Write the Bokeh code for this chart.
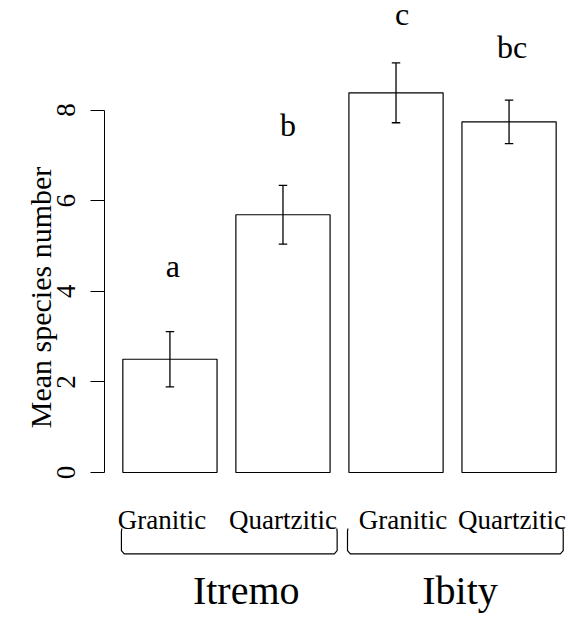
from bokeh.plotting import figure
from bokeh.models import (ColumnDataSource, Range1d, LinearAxis, FixedTicker,
                          CustomJSTickFormatter)
from bokeh.core.properties import value
from bokeh.embed import file_html
from bokeh.resources import INLINE

# ---- data ----
sites = ["Itremo", "Itremo", "Ibity", "Ibity"]
substrates = ["Granitic", "Quartzitic", "Granitic", "Quartzitic"]
mean_species = [2.50, 5.69, 8.38, 7.74]
se = [0.61, 0.65, 0.66, 0.48]
letters = ["a", "b", "c", "bc"]
letter_y = [4.33, 7.44, 9.89, 9.17]
groups = ["Itremo", "Ibity"]
y_ticks = [0, 2, 4, 6, 8]
y_label = "Mean species number"

FONT = value("Liberation Serif")

# R barplot geometry: width 1, space 0.2
bar_width = 1.0
space = 0.2
centers = [space + bar_width / 2 + i * (bar_width + space) for i in range(len(mean_species))]

p = figure(width=568, height=617, output_backend="svg", toolbar_location=None,
           x_range=Range1d(0.0053, 4.931), y_range=Range1d(-2.693, 10.419),
           x_axis_type=None, y_axis_type=None,
           min_border_left=104, min_border_right=0, min_border_top=0, min_border_bottom=23)
p.outline_line_color = None
p.background_fill_color = "white"
p.border_fill_color = "white"

# ---- y axis ----
yaxis = LinearAxis(bounds=(0, 8), ticker=FixedTicker(ticks=y_ticks))
yaxis.axis_label = y_label
yaxis.axis_label_text_font = "Liberation Serif"
yaxis.axis_label_text_font_size = "30px"
yaxis.axis_label_text_font_style = "normal"
yaxis.axis_label_text_color = "black"
yaxis.axis_label_standoff = -2
yaxis.major_label_text_font = "Liberation Serif"
yaxis.major_label_text_font_size = "27px"
yaxis.major_label_text_color = "black"
yaxis.major_label_orientation = "vertical"
yaxis.major_label_standoff = 15
yaxis.major_tick_out = 14
yaxis.major_tick_in = 0
yaxis.minor_tick_out = 0
yaxis.minor_tick_in = 0
yaxis.axis_line_color = "black"
yaxis.major_tick_line_color = "black"
p.add_layout(yaxis, "left")

# ---- site (group) labels as a bottom axis ----
group_mid = [(centers[2 * g] + centers[2 * g + 1]) / 2 for g in range(len(groups))]
group_shift = [0.21, 0.08]
group_ticks = [m + s for m, s in zip(group_mid, group_shift)]
xaxis = LinearAxis(ticker=FixedTicker(ticks=group_ticks),
                   formatter=CustomJSTickFormatter(args=dict(labels=groups),
                                                   code="return labels[index];"))
xaxis.axis_line_color = None
xaxis.major_tick_line_color = None
xaxis.minor_tick_line_color = None
xaxis.major_tick_out = 0
xaxis.major_tick_in = 0
xaxis.minor_tick_out = 0
xaxis.minor_tick_in = 0
xaxis.major_label_standoff = -27
xaxis.major_label_text_font = "Liberation Serif"
xaxis.major_label_text_font_size = "40px"
xaxis.major_label_text_color = "black"
p.add_layout(xaxis, "below")

# ---- bars ----
src = ColumnDataSource(dict(
    x=centers, top=mean_species,
    lo=[m - s for m, s in zip(mean_species, se)],
    hi=[m + s for m, s in zip(mean_species, se)],
))
p.vbar(x="x", top="top", bottom=0, width=bar_width, source=src,
       fill_color="white", line_color="black", line_width=1.2)

# ---- error bars ----
cap = 0.045
p.segment(x0="x", y0="lo", x1="x", y1="hi", source=src, line_color="black", line_width=1.3)
cap_src = ColumnDataSource(dict(
    x0=[c - cap for c in centers] * 2, x1=[c + cap for c in centers] * 2,
    y=[m - s for m, s in zip(mean_species, se)] + [m + s for m, s in zip(mean_species, se)],
))
p.segment(x0="x0", y0="y", x1="x1", y1="y", source=cap_src, line_color="black", line_width=1.3)

# ---- significance letters ----
p.text(x=centers, y=letter_y, text=letters, x_offset=[3, 5, 6, 3], y_offset=-10,
       text_font=FONT, text_font_size="32px", text_align="center",
       text_baseline="alphabetic", text_color="black")

# ---- substrate labels ----
sub_y = [-1.23] * len(substrates)
p.text(x=centers, y=sub_y, text=substrates, x_offset=[-8, 0, 7, 3], y_offset=-8,
       text_font=FONT, text_font_size="27px", text_align="center",
       text_baseline="alphabetic", text_color="black")

# ---- brackets ----
y_top, y_bot = -1.236, -1.795
dx, dy = 0.03, 0.07
xs, ys = [], []
for g in range(len(groups)):
    xl = centers[2 * g] - bar_width / 2 - 0.015
    xr = centers[2 * g + 1] + bar_width / 2 + 0.075
    xs.append([xl + 0.004, xl, xl, xl + dx, xr - dx, xr, xr, xr - 0.004])
    ys.append([y_top, y_top - dy, y_bot + dy, y_bot, y_bot, y_bot + dy, y_top - dy, y_top])
p.multi_line(xs=xs, ys=ys, line_color="black", line_width=1.2)

open("out.html", "w").write(file_html(p, INLINE))
